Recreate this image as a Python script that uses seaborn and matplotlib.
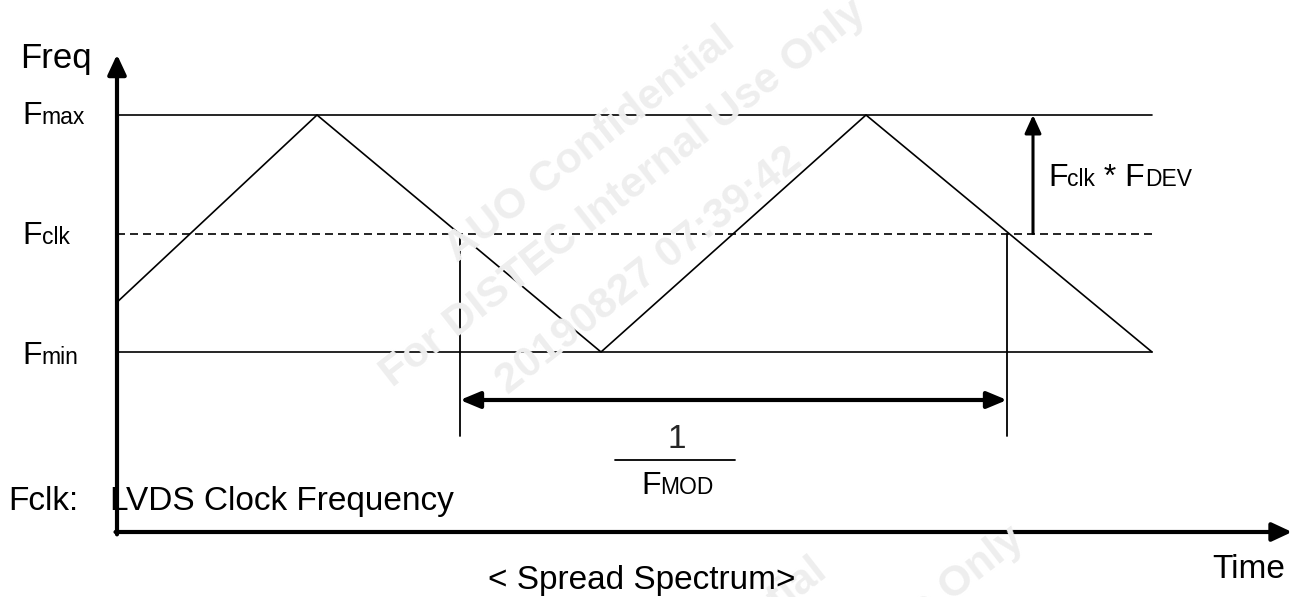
import matplotlib
matplotlib.use("Agg")
import matplotlib.pyplot as plt
import seaborn as sns
import numpy as np
import pandas as pd

# ---------------- data (time in arbitrary units, freq: Fmin=-1, Fclk=0, Fmax=1)
wave_time = [0, 200, 484, 749, 1035]
wave_freq = [-0.58, 1.0, -1.0, 1.0, -1.0]
level_names = ["Fmax", "Fclk", "Fmin"]
level_values = [1.0, 0.0, -1.0]
line_end_time = 1035
period_marks = [343, 890]          # where the wave crosses Fclk (one modulation period)
dev_arrow_time = 916
time_axis_end = 1175
freq_axis_top = 1.51

W, H = 1293, 597
sns.set_theme(style="white")
plt.rcParams["font.family"] = ["Liberation Sans", "DejaVu Sans"]

fig = plt.figure(figsize=(W / 100, H / 100), dpi=100)
ax = fig.add_axes([0, 0, 1, 1])
ax.set_xlim(-117, W - 117)
ax.set_ylim(-(H - 233.5) / 118.5, 233.5 / 118.5)
ax.axis("off")

def px(x, y):
    return x / W, 1 - y / H

# watermark
wm_color = "#eeeeee"
for (x, y), s in [((457, 263), "AUO Confidential"),
                  ((392, 388), "For DISTEC Internal Use Only"),
                  ((508, 395), "20190827 07:39:42"),
                  ((549, 794), "AUO Confidential"),
                  ((550, 915), "For DISTEC Internal Use Only")]:
    fig.text(*px(x, y), s, fontsize=31, fontweight="bold", color=wm_color,
             rotation=38, rotation_mode="anchor", ha="left", va="baseline", zorder=0)

# level lines
for name, v in zip(level_names, level_values):
    df = pd.DataFrame({"t": [0, line_end_time], "f": [v, v]})
    ls = (0, (4.8, 3.0)) if name == "Fclk" else "-"
    sns.lineplot(data=df, x="t", y="f", ax=ax, color="black", lw=1.2,
                 linestyle=ls, legend=False)

# triangle wave
sns.lineplot(x=wave_time, y=wave_freq, ax=ax, color="black", lw=1.2,
             sort=False, legend=False)

# period marker lines
y_mark_bottom = -(436 - 233.5) / 118.5
for t in period_marks:
    ax.plot([t, t], [0, y_mark_bottom], color="black", lw=1.3)
y_period = -(400 - 233.5) / 118.5
ax.annotate("", xy=(period_marks[0], y_period), xytext=(period_marks[1], y_period),
            arrowprops=dict(arrowstyle="<|-|>,head_length=0.6,head_width=0.25",
                            mutation_scale=20, lw=3, color="black",
                            shrinkA=0, shrinkB=0))

# deviation arrow
ax.annotate("", xy=(dev_arrow_time, 1.0), xytext=(dev_arrow_time, 0.0),
            arrowprops=dict(arrowstyle="-|>,head_length=0.55,head_width=0.25",
                            mutation_scale=20, lw=2.2, color="black",
                            shrinkA=0, shrinkB=0))

# axes arrows
y_xaxis = -(532 - 233.5) / 118.5
ax.annotate("", xy=(0, freq_axis_top), xytext=(0, y_xaxis - 0.02),
            arrowprops=dict(arrowstyle="-|>,head_length=0.6,head_width=0.28",
                            mutation_scale=20, lw=3, color="black",
                            shrinkA=0, shrinkB=0))
ax.annotate("", xy=(time_axis_end, y_xaxis), xytext=(-1.5, y_xaxis),
            arrowprops=dict(arrowstyle="-|>,head_length=0.6,head_width=0.28",
                            mutation_scale=20, lw=3, color="black",
                            shrinkA=0, shrinkB=0))

# text helpers
renderer = fig.canvas.get_renderer()
BIG, SMALL = 23, 16.5
def seq(x, y, parts):
    for s, size in parts:
        t = fig.text(*px(x, y), s, fontsize=size, ha="left", va="baseline", color="black")
        x += t.get_window_extent(renderer).width

seq(20, 68, [("Freq", 25)])
seq(22, 124, [("F", BIG), ("max", SMALL)])
seq(22, 244, [("F", BIG), ("clk", SMALL)])
seq(22, 364, [("F", BIG), ("min", SMALL)])
seq(1048, 186, [("F", BIG), ("clk", SMALL), (" * F", BIG), ("DEV", SMALL)])
fig.text(*px(677, 448), "1", fontsize=24, ha="center", va="baseline")
fig.add_artist(plt.Line2D([615 / W, 735 / W], [1 - 460 / H] * 2, color="black", lw=1.3))
seq(641, 494, [("F", BIG), ("MOD", SMALL)])
seq(8, 510, [("Fclk:", 24)])
seq(110, 510, [("LVDS Clock Frequency", 24)])
seq(1212, 578, [("Time", 24)])
seq(488, 589, [("< Spread Spectrum>", 24)])

fig.savefig("out.png", dpi=100, facecolor="white")
